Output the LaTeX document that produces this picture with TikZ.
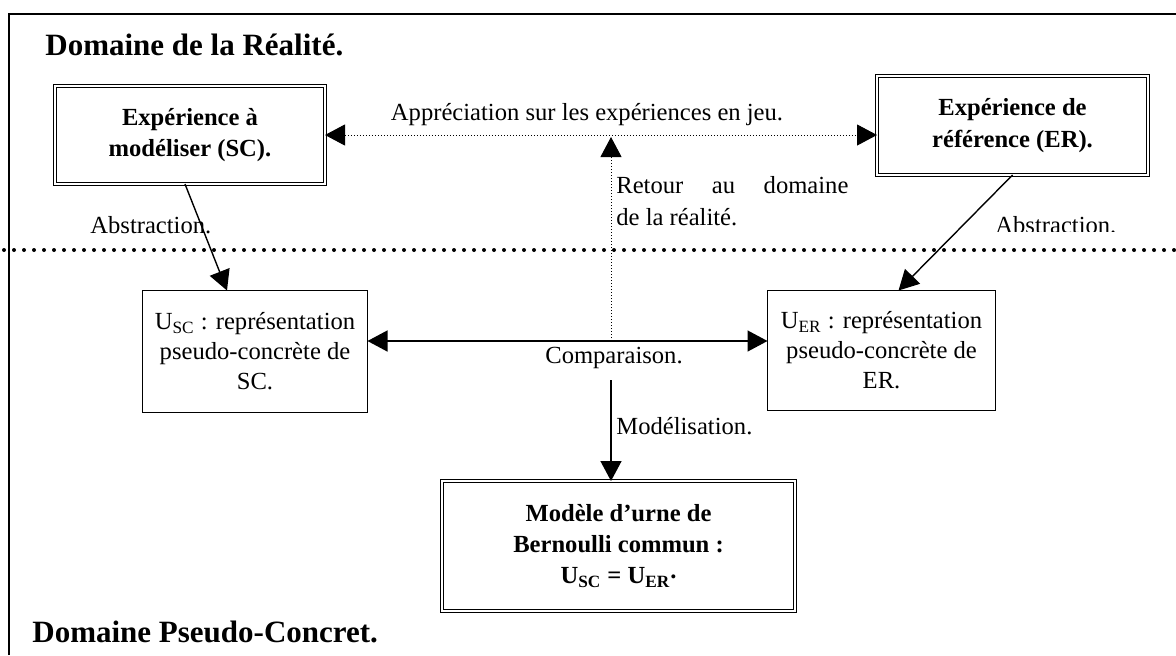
\documentclass[tikz,border=0pt]{standalone}
\usepackage{fontspec}
\setmainfont{Liberation Serif}
\usetikzlibrary{arrows.meta}

\begin{document}
\begin{tikzpicture}[x=0.5pt, y=-0.5pt,
  txt/.style={font=\fontsize{12.3}{15}\selectfont, inner sep=0pt},
  title/.style={font=\fontsize{15.5}{18}\selectfont\bfseries, inner sep=0pt},
  dbox/.style={draw, double, line width=0.6pt, double distance=0.9pt,
    inner sep=0pt, outer sep=0pt, align=center,
    font=\fontsize{12.3}{15.6}\selectfont\bfseries},
  sbox/.style={draw, line width=0.7pt, inner sep=0pt, outer sep=0pt,
    align=center, font=\fontsize{12.3}{15}\selectfont},
  tip/.style={-{Triangle[length=10pt, width=10.5pt]}},
  tips/.style={{Triangle[length=10pt, width=10.5pt]}-{Triangle[length=10pt, width=10.5pt]}},
  solidarrow/.style={line width=0.7pt},
  fine/.style={line width=0.5pt, dash pattern=on 0.5pt off 1pt}
]
\useasboundingbox (0,0) rectangle (1176,655);

% outer frame (top and left sides)
\draw[line width=1pt] (9,655) -- (9,14) -- (1176,14);

% boundary between the two domains
\draw[line width=2pt, dash pattern=on 0pt off 5pt, line cap=round] (4,250) -- (1176,250);

% domain titles
\node[title, anchor=base west] (treal) at (45,55) {Domaine de la Réalité.};
\node[title, anchor=base west] (tpseudo) at (32,642) {Domaine Pseudo-Concret.};

% experiments
\node[dbox, minimum width=135pt, minimum height=49pt] (sc) at (190,135)
  {Expérience à\\modéliser (SC).};
\node[dbox, minimum width=135.5pt, minimum height=49.5pt] (er) at (1012.5,125.5)
  {Expérience de\\référence (ER).};

% pseudo-concrete representations
\node[sbox, minimum width=112.5pt, minimum height=61pt] (usc) at (255,351.5)
  {U\textsubscript{SC} : représentation\\pseudo-concrète de\\SC.};
\node[sbox, minimum width=114pt, minimum height=60pt] (uer) at (881.5,350.5)
  {U\textsubscript{ER} : représentation\\pseudo-concrète de\\ER.};

% common model
\node[dbox, minimum width=176.5pt, minimum height=65pt] (modele) at (618.5,546)
  {Modèle d’urne de\\Bernoulli commun :\\U\textsubscript{SC} = U\textsubscript{ER}\raisebox{2.5pt}{.}};

% auxiliary points on the central axis
\coordinate (cmp) at (611,341);
\coordinate (modtop) at (611,380);

% appreciation between the experiments
\draw[fine, tips] (sc.east) -- (sc.east -| er.west);
\node[txt, anchor=base] (lapp) at (587,120) {Appréciation sur les expériences en jeu.};

% abstraction arrows
\draw[solidarrow, tip] ([xshift=-2.5pt]sc.south) -- ([xshift=-14pt]usc.north);
\draw[solidarrow, tip] (er.south) -- ([xshift=8.5pt]uer.north);
\node[txt, anchor=base west] (labs1) at (90,233) {Abstraction.};
\begin{scope}
  \clip (980,200) rectangle (1176,231);
  \node[txt, anchor=base west] (labs2) at (995,233) {Abstraction.};
\end{scope}

% comparison
\draw[solidarrow, tips] (usc.east |- cmp) -- (uer.west |- cmp);
\node[txt, anchor=base] (lcmp) at (614,363) {Comparaison.};

% return to reality
\draw[fine, tip] (cmp) -- ([yshift=-1pt]cmp |- sc.east);
\node[txt, anchor=base west] (lret1) at (616,193) {\makebox[116pt][s]{Retour au domaine}};
\node[txt, anchor=base west] (lret2) at (616,225) {de la réalité.};

% modelling
\draw[solidarrow, tip] (modtop) -- (modtop |- modele.north);
\node[txt, anchor=base west] (lmod) at (616,434) {Modélisation.};

\end{tikzpicture}
\end{document}
